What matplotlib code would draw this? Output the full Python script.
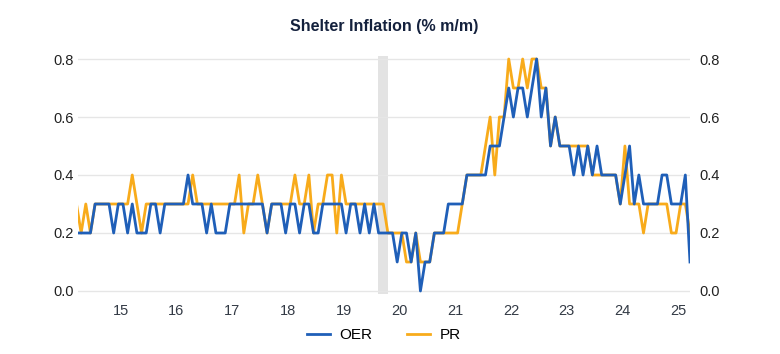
import matplotlib
matplotlib.use("Agg")
import matplotlib.pyplot as plt
import numpy as np

# monthly % m/m, Sep 2014 .. Sep 2025
START_YEAR = 2014
START_MONTH = 9

oer = (
    [0.2, 0.2, 0.2, 0.2]
    + [0.3, 0.3, 0.3, 0.3, 0.2, 0.3, 0.3, 0.2, 0.3, 0.2, 0.2, 0.2]  # 2015
    + [0.3, 0.3, 0.2, 0.3, 0.3, 0.3, 0.3, 0.3, 0.4, 0.3, 0.3, 0.3]  # 2016
    + [0.2, 0.3, 0.2, 0.2, 0.2, 0.3, 0.3, 0.3, 0.3, 0.3, 0.3, 0.3]  # 2017
    + [0.3, 0.2, 0.3, 0.3, 0.3, 0.2, 0.3, 0.3, 0.2, 0.3, 0.3, 0.2]  # 2018
    + [0.2, 0.3, 0.3, 0.3, 0.3, 0.3, 0.2, 0.3, 0.3, 0.2, 0.3, 0.2]  # 2019
    + [0.3, 0.2, 0.2, 0.2, 0.2, 0.1, 0.2, 0.2, 0.1, 0.2, 0.0, 0.1]  # 2020
    + [0.1, 0.2, 0.2, 0.2, 0.3, 0.3, 0.3, 0.3, 0.4, 0.4, 0.4, 0.4]  # 2021
    + [0.4, 0.5, 0.5, 0.5, 0.6, 0.7, 0.6, 0.7, 0.7, 0.6, 0.7, 0.8]  # 2022
    + [0.6, 0.7, 0.5, 0.6, 0.5, 0.5, 0.5, 0.4, 0.5, 0.4, 0.5, 0.4]  # 2023
    + [0.5, 0.4, 0.4, 0.4, 0.4, 0.3, 0.4, 0.5, 0.3, 0.4, 0.3, 0.3]  # 2024
    + [0.3, 0.3, 0.4, 0.4, 0.3, 0.3, 0.3, 0.4, 0.1]  # 2025
)

pr = (
    [0.3, 0.2, 0.3, 0.2]
    + [0.3, 0.3, 0.3, 0.3, 0.3, 0.3, 0.3, 0.3, 0.4, 0.3, 0.2, 0.3]  # 2015
    + [0.3, 0.3, 0.3, 0.3, 0.3, 0.3, 0.3, 0.3, 0.3, 0.4, 0.3, 0.3]  # 2016
    + [0.3, 0.3, 0.3, 0.3, 0.3, 0.3, 0.3, 0.4, 0.2, 0.3, 0.3, 0.4]  # 2017
    + [0.3, 0.2, 0.3, 0.3, 0.3, 0.3, 0.3, 0.4, 0.3, 0.3, 0.4, 0.2]  # 2018
    + [0.3, 0.3, 0.4, 0.4, 0.2, 0.4, 0.3, 0.3, 0.3, 0.3, 0.3, 0.3]  # 2019
    + [0.3, 0.3, 0.3, 0.2, 0.2, 0.2, 0.2, 0.1, 0.1, 0.2, 0.1, 0.1]  # 2020
    + [0.1, 0.2, 0.2, 0.2, 0.2, 0.2, 0.2, 0.3, 0.4, 0.4, 0.4, 0.4]  # 2021
    + [0.5, 0.6, 0.4, 0.6, 0.6, 0.8, 0.7, 0.7, 0.8, 0.7, 0.8, 0.8]  # 2022
    + [0.7, 0.7, 0.5, 0.6, 0.5, 0.5, 0.5, 0.5, 0.5, 0.5, 0.5, 0.4]  # 2023
    + [0.4, 0.4, 0.4, 0.4, 0.4, 0.3, 0.5, 0.3, 0.3, 0.3, 0.2, 0.3]  # 2024
    + [0.3, 0.3, 0.3, 0.3, 0.2, 0.2, 0.3, 0.3, 0.2]  # 2025
)

year_labels = ["15", "16", "17", "18", "19", "20", "21", "22", "23", "24", "25"]
recession = (2020 + 1.45 / 12, 2020 + 3.45 / 12)

BLUE = "#1f5fb8"
ORANGE = "#f8ab1b"
TEXT = "#222222"

plt.rcParams["font.family"] = ["Liberation Sans", "DejaVu Sans"]

# mid-month positions in decimal years
k = np.arange(len(oer))
t = START_YEAR + (START_MONTH - 1 + k + 0.5) / 12

fig = plt.figure(figsize=(7.8, 3.54), dpi=100)
ax = fig.add_axes([0.1, 0.1698, 0.7846, 0.6717])

ax.axvspan(*recession, color="#e3e3e3", lw=0, zorder=0)
ax.plot(t, pr, color=ORANGE, lw=2.0, label="PR", zorder=3)
ax.plot(t, oer, color=BLUE, lw=2.0, label="OER", zorder=4)

ax.set_xlim(t[0] + 0.027, t[-1])
ax.set_ylim(-0.01, 0.81)
yt = np.arange(0, 0.81, 0.2)
ax.set_yticks(yt)
ax.set_yticklabels([f"{v:.1f}" for v in yt])
ax.grid(axis="y", color="#e6e6e6", lw=1.0)
ax.set_axisbelow(True)

xt = [2015.5 + i for i in range(len(year_labels))]
ax.set_xticks(xt)
ax.set_xticklabels(year_labels)

for s in ax.spines.values():
    s.set_visible(False)
ax.tick_params(axis="x", length=0, pad=7, labelsize=10.5, labelcolor="#333a45")
ax.tick_params(axis="y", length=0, pad=3, labelsize=10.5, labelcolor=TEXT)

ax2 = ax.twinx()
ax2.set_ylim(ax.get_ylim())
ax2.set_yticks(yt)
ax2.set_yticklabels([f"{v:.1f}" for v in yt])
ax2.tick_params(axis="y", length=0, pad=7, labelsize=10.5, labelcolor=TEXT)
for s in ax2.spines.values():
    s.set_visible(False)

fig.text(0.493, 0.926, "Shelter Inflation (% m/m)", ha="center", va="center",
         fontsize=11.5, fontweight="bold", color="#14213d")

h, l = ax.get_legend_handles_labels()
fig.legend(h[::-1], l[::-1], loc="center", bbox_to_anchor=(0.492, 0.054), ncol=2,
           frameon=False, fontsize=11, handlelength=1.5, columnspacing=2.3,
           handletextpad=0.6)

fig.savefig("out.png", dpi=100)
